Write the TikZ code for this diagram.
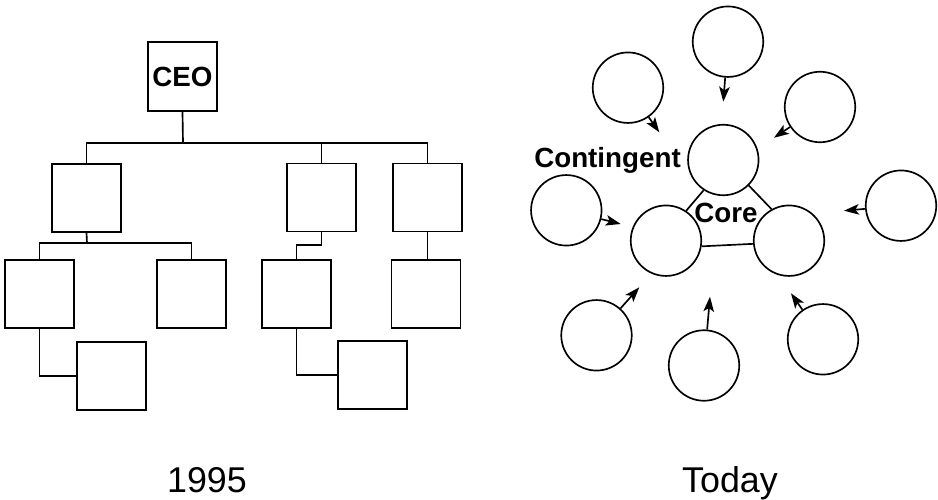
\documentclass[tikz,border=0pt]{standalone}
\usepackage{fontspec}
\setmainfont{Liberation Sans}
\usetikzlibrary{arrows.meta}
\begin{document}
\begin{tikzpicture}[x=0.02cm,y=-0.02cm,
  line width=0.95pt,
  unit/.style={draw, rectangle, minimum width=1.38cm, minimum height=1.36cm, inner sep=0pt},
  member/.style={draw, circle, minimum size=1.41cm, inner sep=0pt},
  boldlabel/.style={font=\fontsize{15.8}{18}\selectfont\bfseries, inner sep=0pt},
  yearlabel/.style={font=\fontsize{20.4}{24}\selectfont, inner sep=0pt, anchor=base},
  flow/.style={-{Stealth[length=8.5pt, width=6pt, inset=2pt]}}]
\useasboundingbox (0,0) rectangle (938,500);

% ---- Hierarchy (1995) ----
\node[unit, minimum height=1.38cm, boldlabel] (ceo) at (182.5,76.5) {CEO};
\node[unit] (a)  at (86.5,198) {};
\node[unit] (b)  at (321.5,197.5) {};
\node[unit] (c)  at (427.5,197.5) {};
\node[unit] (a1) at (39.5,294) {};
\node[unit] (a2) at (191.5,294) {};
\node[unit] (b1) at (296.5,294) {};
\node[unit] (c1) at (426,294) {};
\node[unit] (a3) at (111.5,376) {};
\node[unit] (b3) at (372.5,375) {};

\coordinate (bus)  at (183,143);
\coordinate (abus) at (87,243);
\coordinate (bbus) at (321,245);

\draw (ceo.south) -- (bus);
\draw (a.north) -- (a.north |- bus) -- (c.north |- bus) -- (c.north);
\draw (b.north) -- (b.north |- bus);
\draw (a.south) -- (abus);
\draw (a1.north) -- (a1.north |- abus) -- (a2.north |- abus) -- (a2.north);
\draw (b.south) -- (b.south |- bbus) -| (b1.north);
\draw (c.south) -- (c.south |- c1.north);
\draw (a1.south) |- (a3.west);
\draw (b1.south) |- (b3.west);

\node[yearlabel] (y1995) at (207,493) {1995};

% ---- Network (Today) ----
\node[member] (ct) at (723.3,160) {};
\node[member] (cl) at (666,240.7) {};
\node[member] (cr) at (789,240.7) {};
\draw (cl.56) -- (ct.237.8);
\draw (ct.-45) -- (cr.119.5);
\draw (cl.-9.6) -- (cr.185.4);

\node[member] (m1) at (728,41.7) {};
\node[member] (m2) at (628,87.7) {};
\node[member] (m3) at (820,107) {};
\node[member] (m4) at (566.3,210.3) {};
\node[member] (m5) at (901,205.7) {};
\node[member] (m6) at (596.5,335.3) {};
\node[member] (m7) at (704,365.5) {};
\node[member] (m8) at (823,339.3) {};

\coordinate (t1) at (723.3,101.7);
\coordinate (t2) at (659.3,132.3);
\coordinate (t3) at (774,137.7);
\coordinate (t4) at (620.7,224);
\coordinate (t5) at (844,210.7);
\coordinate (t6) at (639.3,287.3);
\coordinate (t7) at (710,296.7);
\coordinate (t8) at (791,293.3);

\draw[flow] (m1) -- (t1);
\draw[flow] (m2) -- (t2);
\draw[flow] (m3) -- (t3);
\draw[flow] (m4) -- (t4);
\draw[flow] (m5) -- (t5);
\draw[flow] (m6) -- (t6);
\draw[flow] (m7) -- (t7);
\draw[flow] (m8) -- (t8);

\node[boldlabel, anchor=base] (contingent) at (607.5,168) {Contingent};
\node[boldlabel, anchor=base] (core) at (726,223) {Core};

\node[yearlabel] (today) at (730,493) {Today};
\end{tikzpicture}
\end{document}
